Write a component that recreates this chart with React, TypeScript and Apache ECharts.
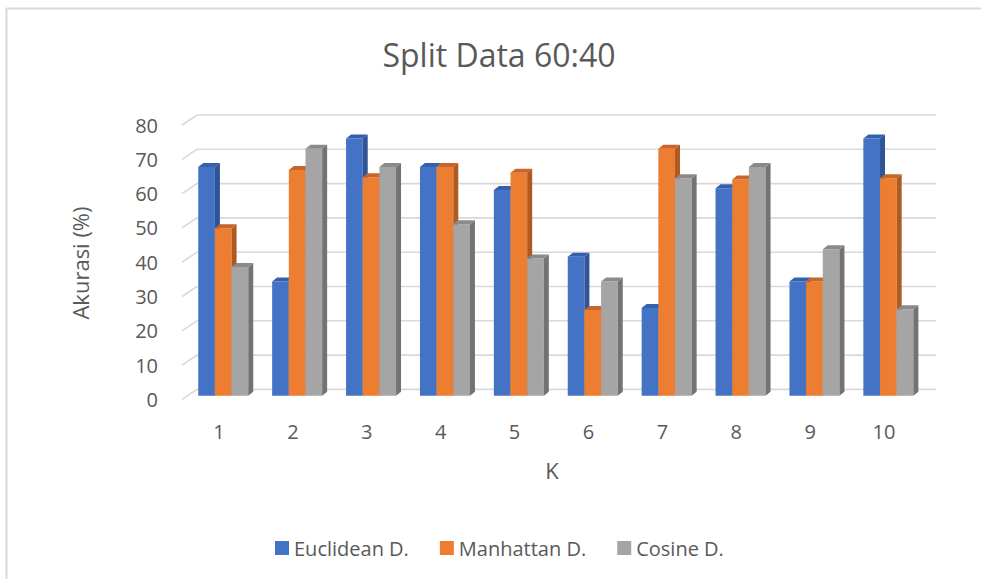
import React, { useEffect, useRef } from "react";
import * as echarts from "echarts";

const K_LABELS = ["1", "2", "3", "4", "5", "6", "7", "8", "9", "10"];
const EUCLIDEAN = [66.67, 33.33, 75, 66.67, 60, 40.5, 25.6, 60.5, 33.33, 75];
const MANHATTAN = [48.8, 65.8, 63.7, 66.67, 65, 25, 72, 63, 33.33, 63.4];
const COSINE = [37.5, 72, 66.67, 50, 40, 33.33, 63.4, 66.67, 42.7, 25.2];
const Y_TICKS = [0, 10, 20, 30, 40, 50, 60, 70, 80];

const SERIES_NAMES = ["Euclidean D.", "Manhattan D.", "Cosine D."];
const FRONT = ["#4472C4", "#ED7D31", "#A5A5A5"];
const SIDE = ["#2F5597", "#AE5A21", "#737373"];
const TOP = ["#3560AE", "#C8652A", "#8A8A8A"];

const FONT = "'Open Sans', sans-serif";
const TXT = "#595959";

export default function App() {
  const ref = useRef<HTMLDivElement>(null);
  useEffect(() => {
    if (!ref.current) return;
    const chart = echarts.init(ref.current, undefined, { renderer: "svg" });
    const OX = 4.3;
    const OY = -3.7;
    const DX = 5;
    const DY = 4;

    const barSeries = [EUCLIDEAN, MANHATTAN, COSINE].map((vals, sIdx) => ({
      type: "custom",
      name: SERIES_NAMES[sIdx],
      z: 3,
      itemStyle: { color: FRONT[sIdx] },
      encode: { x: 0, y: 1 },
      data: vals.map((v, i) => [i, v]),
      renderItem: (params: any, api: any) => {
        const ci = api.value(0);
        const v = api.value(1);
        const base = api.coord([ci, 0]);
        const top = api.coord([ci, v]);
        const band = api.size([1, 0])[0];
        const bw = band * 0.2255;
        const x0 = base[0] - 1.5 * bw + sIdx * bw + OX;
        const yb = base[1] + OY;
        const yt = top[1] + OY;
        return {
          type: "group",
          children: [
            {
              type: "rect",
              shape: { x: x0, y: yt, width: bw, height: yb - yt },
              style: { fill: FRONT[sIdx] },
            },
            {
              type: "polygon",
              shape: {
                points: [
                  [x0 + bw, yt],
                  [x0 + bw + DX, yt - DY],
                  [x0 + bw + DX, yb - DY],
                  [x0 + bw, yb],
                ],
              },
              style: { fill: SIDE[sIdx] },
            },
            {
              type: "polygon",
              shape: {
                points: [
                  [x0, yt],
                  [x0 + DX, yt - DY],
                  [x0 + bw + DX, yt - DY],
                  [x0 + bw, yt],
                ],
              },
              style: { fill: TOP[sIdx] },
            },
          ],
        };
      },
    }));

    const gridSeries = {
      type: "custom",
      name: "grid3d",
      z: 1,
      silent: true,
      encode: { x: 0, y: 1 },
      data: Y_TICKS.map((t) => [0, t]),
      renderItem: (params: any, api: any) => {
        const cs = params.coordSys;
        const y = api.coord([0, api.value(1)])[1];
        return {
          type: "polyline",
          shape: {
            points: [
              [cs.x, y],
              [cs.x + 15, y - 10],
              [cs.x + cs.width + 15, y - 10],
            ],
          },
          style: { stroke: "#D9D9D9", lineWidth: 1.6, fill: "none" },
        };
      },
    };

    chart.setOption({
      animation: false,
      backgroundColor: "#ffffff",
      textStyle: { fontFamily: FONT },
      grid: { left: 182, width: 739, top: 125, bottom: 179.6 },
      xAxis: {
        type: "category",
        data: K_LABELS,
        axisLine: { show: false },
        axisTick: { show: false },
        splitLine: { show: false },
        axisLabel: { margin: 22, fontSize: 20, color: TXT, fontFamily: FONT },
      },
      yAxis: {
        type: "value",
        min: 0,
        max: 80,
        interval: 10,
        axisLine: { show: false },
        axisTick: { show: false },
        splitLine: { show: false },
        axisLabel: { margin: 24, fontSize: 20, color: TXT, fontFamily: FONT, padding: [4, 0, 0, 0] },
      },
      legend: {
        data: SERIES_NAMES,
        left: 270,
        top: 533,
        icon: "rect",
        itemWidth: 14,
        itemHeight: 14,
        itemGap: 31,
        textStyle: { fontSize: 20, color: TXT, fontFamily: FONT },
      },
      graphic: [
        {
          type: "line",
          shape: { x1: 6, y1: 8.5, x2: 981, y2: 8.5 },
          style: { stroke: "#D9D9D9", lineWidth: 2 },
        },
        {
          type: "line",
          shape: { x1: 6.5, y1: 8, x2: 6.5, y2: 579 },
          style: { stroke: "#D9D9D9", lineWidth: 2 },
        },
        {
          type: "text",
          x: 499,
          y: 54,
          style: {
            text: "Split Data 60:40",
            fontSize: 32,
            fontFamily: FONT,
            fill: TXT,
            textAlign: "center",
            textVerticalAlign: "middle",
          },
        },
        {
          type: "text",
          x: 80,
          y: 263,
          rotation: Math.PI / 2,
          style: {
            text: "Akurasi (%)",
            fontSize: 22,
            fontFamily: FONT,
            fill: TXT,
            textAlign: "center",
            textVerticalAlign: "middle",
          },
        },
        {
          type: "text",
          x: 552,
          y: 470,
          style: {
            text: "K",
            fontSize: 22,
            fontFamily: FONT,
            fill: TXT,
            textAlign: "center",
            textVerticalAlign: "middle",
          },
        },
      ],
      series: [gridSeries, ...barSeries],
    });
    return () => chart.dispose();
  }, []);
  return (
    <div
      ref={ref}
      style={{ position: "fixed", left: 0, top: 0, width: 981, height: 579 }}
    />
  );
}
